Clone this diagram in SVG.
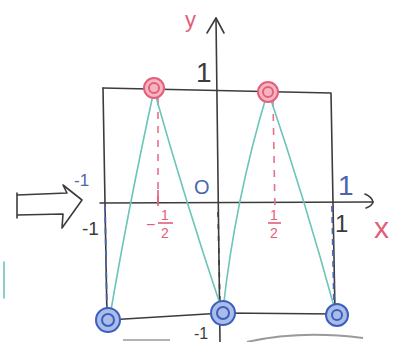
<svg xmlns="http://www.w3.org/2000/svg" width="413" height="342" viewBox="0 0 413 342">
<style>
.ink{fill:none;stroke:#3c3c3c;stroke-width:1.6;stroke-linecap:round;stroke-linejoin:round}
.teal{fill:none;stroke:#6cc4bb;stroke-width:1.6;stroke-linecap:round}
.pdash{fill:none;stroke:#e4728c;stroke-width:1.6;stroke-dasharray:7 7}
.bdash{fill:none;stroke:#4a66b0;stroke-width:1.8;stroke-dasharray:6 5}
.kdash{fill:none;stroke:#3c3c3c;stroke-width:1.6;stroke-dasharray:5 7}
.pink{fill:#f4b4c0;stroke:#e45f7c;stroke-width:2}
.blue{fill:#a9bde8;stroke:#3c5fbf;stroke-width:2}
.t{font-family:"Liberation Sans",Arial,sans-serif}
.tp{fill:#e0607a}
.tk{fill:#3c3c3c}
.tb{fill:#4a66b0}
</style>
<rect width="413" height="342" fill="#ffffff"/>
<g id="axes">
<path class="ink" d="M216,18 L220,342"/>
<path class="ink" d="M207,33 L216,18 L224,33"/>
<path class="ink" d="M100,203 L373,202"/>
<path class="ink" d="M365,194 Q372,197 373,202 Q372,206 366,208"/>
</g>
<g id="box">
<path class="ink" d="M103,88 L331,93 L335,313"/>
<path class="ink" d="M103,88 L107,318"/>
<path class="ink" d="M108,320 L223,313 L337,314"/>
</g>
<g id="arrow">
<path class="ink" d="M17,193 L17,218 M17,195 L67,193 L63,185 L82,200 L62,228 L63,214 L17,215"/>
</g>
<g id="connectors">
<path class="kdash" d="M218,212 L220,306"/>
<path class="bdash" d="M105,206 L107,312"/>
<path class="bdash" d="M332,206 L334,306"/>
<path class="pdash" d="M158,98 L158,205"/>
<path class="pdash" d="M273,100 L275,212"/>
<path class="teal" d="M154,90 Q128,210 110,316"/>
<path class="teal" d="M154,90 Q185,200 222,310"/>
<path class="teal" d="M267,94 Q235,200 223,310"/>
<path class="teal" d="M269,94 Q305,200 335,310"/>
<path class="teal" d="M4,262 L4,298"/>
</g>
<g id="points">
<circle class="pink" cx="154" cy="88" r="10"/>
<circle class="pink" cx="154" cy="88" r="5"/>
<circle class="pink" cx="268" cy="92" r="10"/>
<circle class="pink" cx="268" cy="92" r="5"/>
<circle class="blue" cx="108" cy="320" r="12"/>
<circle class="blue" cx="108" cy="320" r="6"/>
<circle class="blue" cx="223" cy="313" r="12"/>
<circle class="blue" cx="223" cy="313" r="6"/>
<circle class="blue" cx="337" cy="315" r="11"/>
<circle class="blue" cx="337" cy="315" r="5"/>
</g>
<g id="bottom-marks">
<path fill="none" stroke="#9a9a9a" stroke-width="1.6" d="M123,340 L170,340"/>
<path fill="none" stroke="#9a9a9a" stroke-width="2" d="M247,342 Q300,330 363,338"/>
</g>
<g id="labels">
<text class="t tp" x="185" y="27" font-size="22">y</text>
<text class="t tk" x="196" y="82" font-size="28">1</text>
<text class="t tb" x="74" y="186" font-size="17">-1</text>
<text class="t tk" x="82" y="235" font-size="19">-1</text>
<text class="t tb" x="194" y="194" font-size="20">O</text>
<path fill="none" stroke="#e0607a" stroke-width="1.6" d="M158,190 L158,206"/>
<text class="t tp" x="146" y="230" font-size="16">−</text>
<text class="t tp" x="161" y="220" font-size="14">1</text>
<path fill="none" stroke="#e0607a" stroke-width="1.6" d="M158,223 L173,223"/>
<text class="t tp" x="161" y="238" font-size="14">2</text>
<text class="t tp" x="270" y="220" font-size="14">1</text>
<path fill="none" stroke="#e0607a" stroke-width="1.6" d="M268,223 L281,223"/>
<text class="t tp" x="270" y="238" font-size="14">2</text>
<text class="t tb" x="338" y="195" font-size="28">1</text>
<text class="t tk" x="335" y="232" font-size="24">1</text>
<text class="t tp" x="374" y="238" font-size="30">x</text>
<text class="t tk" x="194" y="339" font-size="16">-1</text>
</g>
</svg>
